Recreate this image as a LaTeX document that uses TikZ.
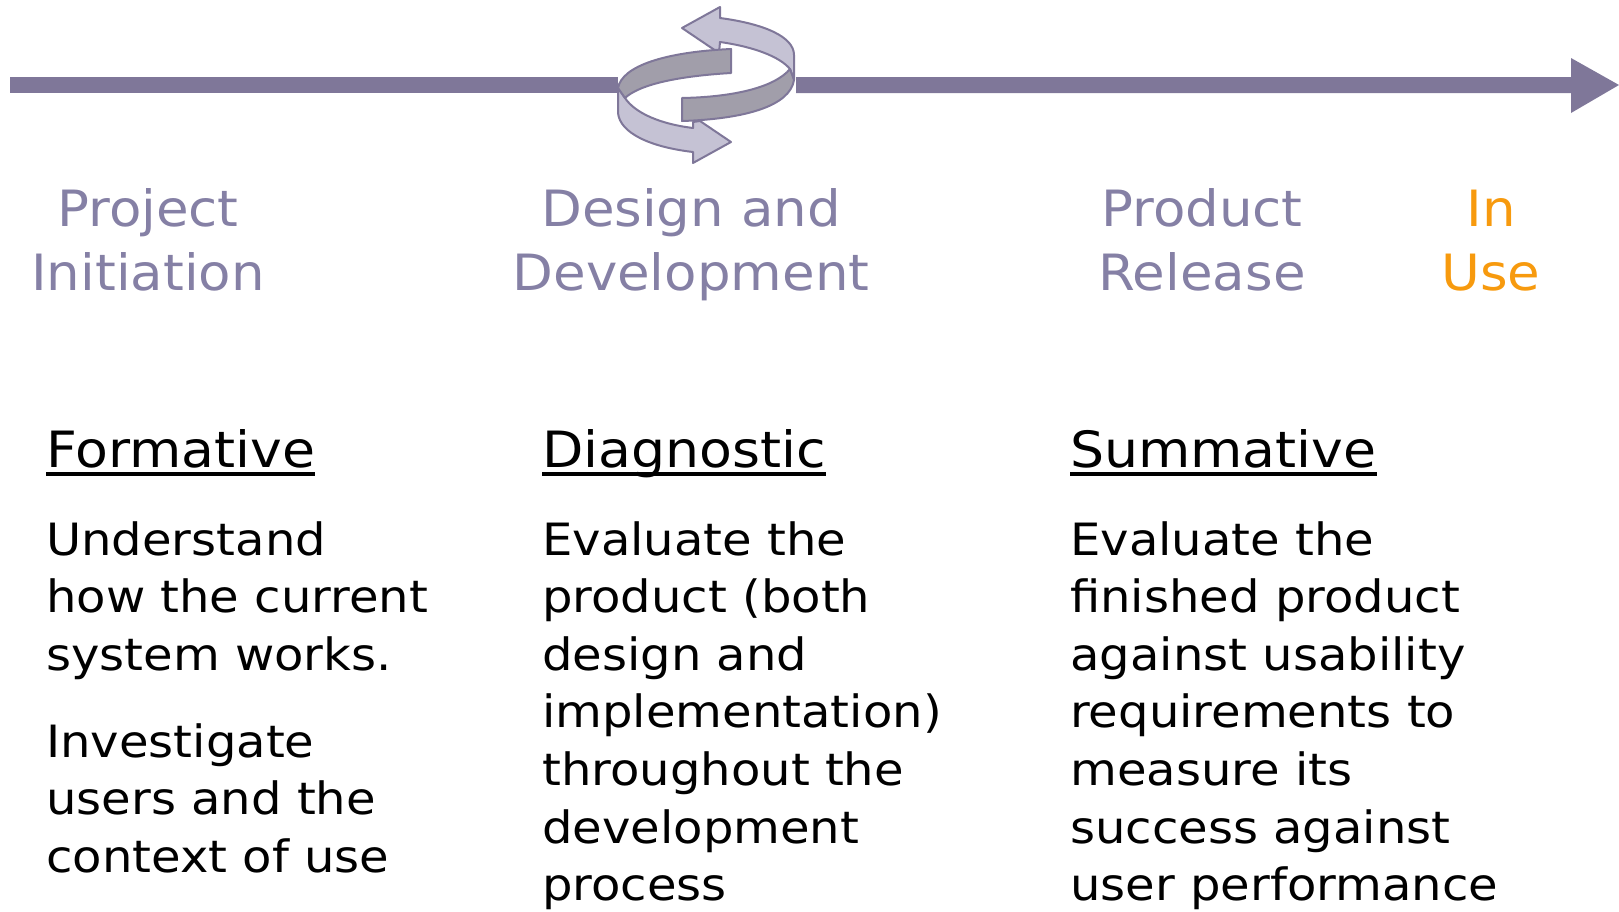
\documentclass[tikz,border=0pt]{standalone}
\usepackage{fontspec}
\setmainfont{DejaVu Sans}
\newfontfamily\phasefont[FakeStretch=1.06]{DejaVu Sans}
\newfontfamily\headfont[FakeStretch=1.074]{DejaVu Sans}
\newfontfamily\bodyfont[FakeStretch=1.08]{DejaVu Sans}
\newsavebox{\headbox}
\newcommand{\headrule}[1]{\sbox{\headbox}{#1}\rlap{\rule[-8pt]{\wd\headbox}{4pt}}#1}
\definecolor{axis}{HTML}{7F7799}
\definecolor{lightband}{HTML}{C5C2D4}
\definecolor{darkband}{HTML}{A19EAA}
\definecolor{phase}{HTML}{8580A5}
\definecolor{inuse}{HTML}{F79A0E}
\tikzset{
  phaselabel/.style={anchor=north,align=center,inner sep=0pt,text=phase,font=\phasefont\fontsize{50}{64}\selectfont},
  heading/.style={anchor=north west,inner sep=0pt,font=\headfont\fontsize{50}{64}\selectfont},
  bodytext/.style={anchor=north west,align=left,inner sep=0pt,font=\bodyfont\fontsize{44.5}{57.6}\selectfont},
  band/.style={draw=axis,line width=2pt,line join=round},
}
\begin{document}
\begin{tikzpicture}[x=1pt,y=-1pt]
\useasboundingbox (0,0) rectangle (1619,911);
\clip (0,0) rectangle (1619,911);
% axis
\fill[axis] (10,77) -- (618,77) -- (618,93) -- (10,93) -- cycle;
\fill[axis] (796,77) -- (1571,77) -- (1571,58) -- (1619,85) -- (1571,113) -- (1571,93) -- (796,93) -- cycle;
% swirl
\draw[band,fill=lightband] (682,28) -- (720,7) -- (720,18)
  .. controls (765,24) and (794,37) .. (794,55) -- (794,80) -- (790,69)
  .. controls (780,57) and (755,47) .. (720,42) -- (719,53) -- cycle;
\draw[band,fill=lightband] (618,88) -- (618,113)
  .. controls (620,133) and (650,147) .. (693,152) -- (693,163) -- (731,142) -- (700,121) -- (693,122) -- (693,128)
  .. controls (660,124) and (635,113) .. (625,98) -- cycle;
\draw[band,fill=darkband] (731,49) -- (731,73)
  .. controls (680,76) and (640,84) .. (625,98) -- (618,88)
  .. controls (622,66) and (665,52) .. (731,49) -- cycle;
\draw[band,fill=darkband] (682,98) -- (682,121)
  .. controls (745,119) and (790,106) .. (794,80) -- (790,69)
  .. controls (775,87) and (735,97) .. (682,98) -- cycle;
% phases
\node[phaselabel] (initiation) at (148,188) {Project\\Initiation};
\node[phaselabel] (design) at (691,188) {Design and\\Development};
\node[phaselabel] (release) at (1202,188) {Product\\Release};
\node[phaselabel,text=inuse] (inuse) at (1491,189.5) {In\\Use};
% headings
\node[heading] (formative) at (46,429.5) {\headrule{Formative}};
\node[heading] (diagnostic) at (542,429.5) {\headrule{Diagnostic}};
\node[heading] (summative) at (1070,429.5) {\headrule{Summative}};
% bodies
\node[bodytext] (b1) at (46,521) {Understand\\how the current\\system works.};
\node[bodytext] (b2) at (46,723) {Investigate\\users and the\\context of use};
\node[bodytext] (b3) at (542,521) {Evaluate the\\product (both\\design and\\implementation)\\throughout the\\development\\process};
\node[bodytext] (b4) at (1070,521) {Evaluate the\\finished product\\against usability\\requirements to\\measure its\\success against\\user performance};
\end{tikzpicture}
\end{document}
